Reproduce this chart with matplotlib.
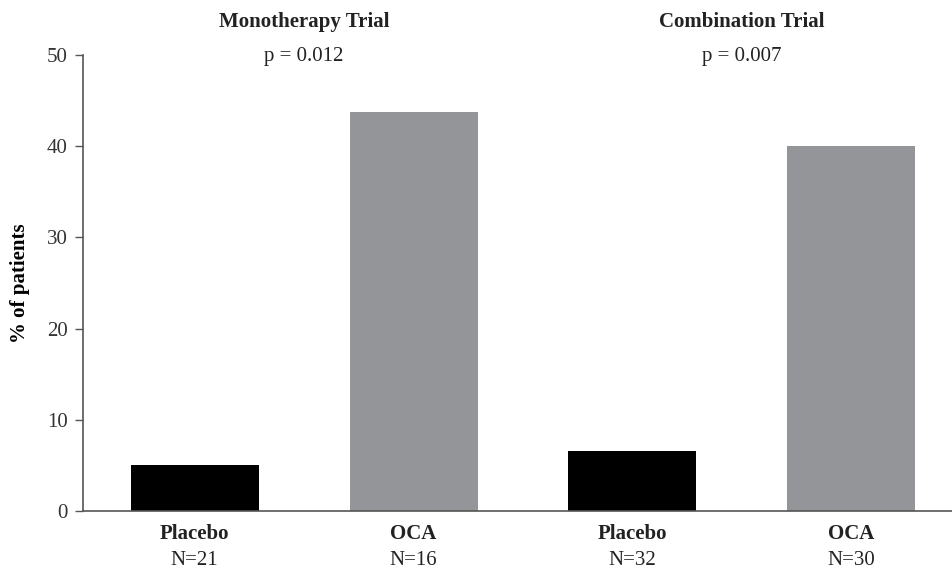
import numpy as np
import matplotlib.pyplot as plt
import matplotlib.transforms as mtransforms

plt.rcParams['font.family'] = ['Liberation Serif', 'DejaVu Serif']

groups = ["Placebo", "OCA", "Placebo", "OCA"]
n_labels = ["N=21", "N=16", "N=32", "N=30"]
values = [5.0, 43.75, 6.6, 40.0]
colors = ["#000000", "#939598", "#000000", "#939598"]
trials = ["Monotherapy Trial", "Combination Trial"]
p_values = ["p = 0.012", "p = 0.007"]

fig = plt.figure(figsize=(9.52, 5.69), dpi=100)
ax = fig.add_axes([0.0872, 0.1019, 0.9128, 0.8014])

x = np.arange(len(values))
ax.bar(x, values, width=0.585, color=colors)

ax.set_xlim(-0.51, 3.46)
ax.set_ylim(0, 50)
ax.set_yticks(np.arange(0, 51, 10))
ax.tick_params(axis='y', direction='out', length=6, width=1, labelsize=15,
               colors='#555555', labelcolor='#333333', pad=5)
ax.set_xticks([])
for s in ['top', 'right']:
    ax.spines[s].set_visible(False)
for s in ['left', 'bottom']:
    ax.spines[s].set_color('#555555')
    ax.spines[s].set_linewidth(1.2)

ax.set_ylabel("% of patients", fontsize=15, fontweight='bold', labelpad=12)

trans = mtransforms.blended_transform_factory(ax.transData, ax.transAxes)
for i in range(len(values)):
    ax.text(x[i], -0.05, groups[i], transform=trans, ha='center', va='center',
            fontsize=15, fontweight='bold', color='#222222')
    ax.text(x[i], -0.108, n_labels[i], transform=trans, ha='center', va='center',
            fontsize=15, color='#222222')

for j in range(len(trials)):
    xc = (x[2 * j] + x[2 * j + 1]) / 2
    ax.text(xc, 1.072, trials[j], transform=trans, ha='center', va='center',
            fontsize=15, fontweight='bold', color='#222222')
    ax.text(xc, 0.996, p_values[j], transform=trans, ha='center', va='center',
            fontsize=15, color='#222222')

fig.savefig("out.png", dpi=100)
